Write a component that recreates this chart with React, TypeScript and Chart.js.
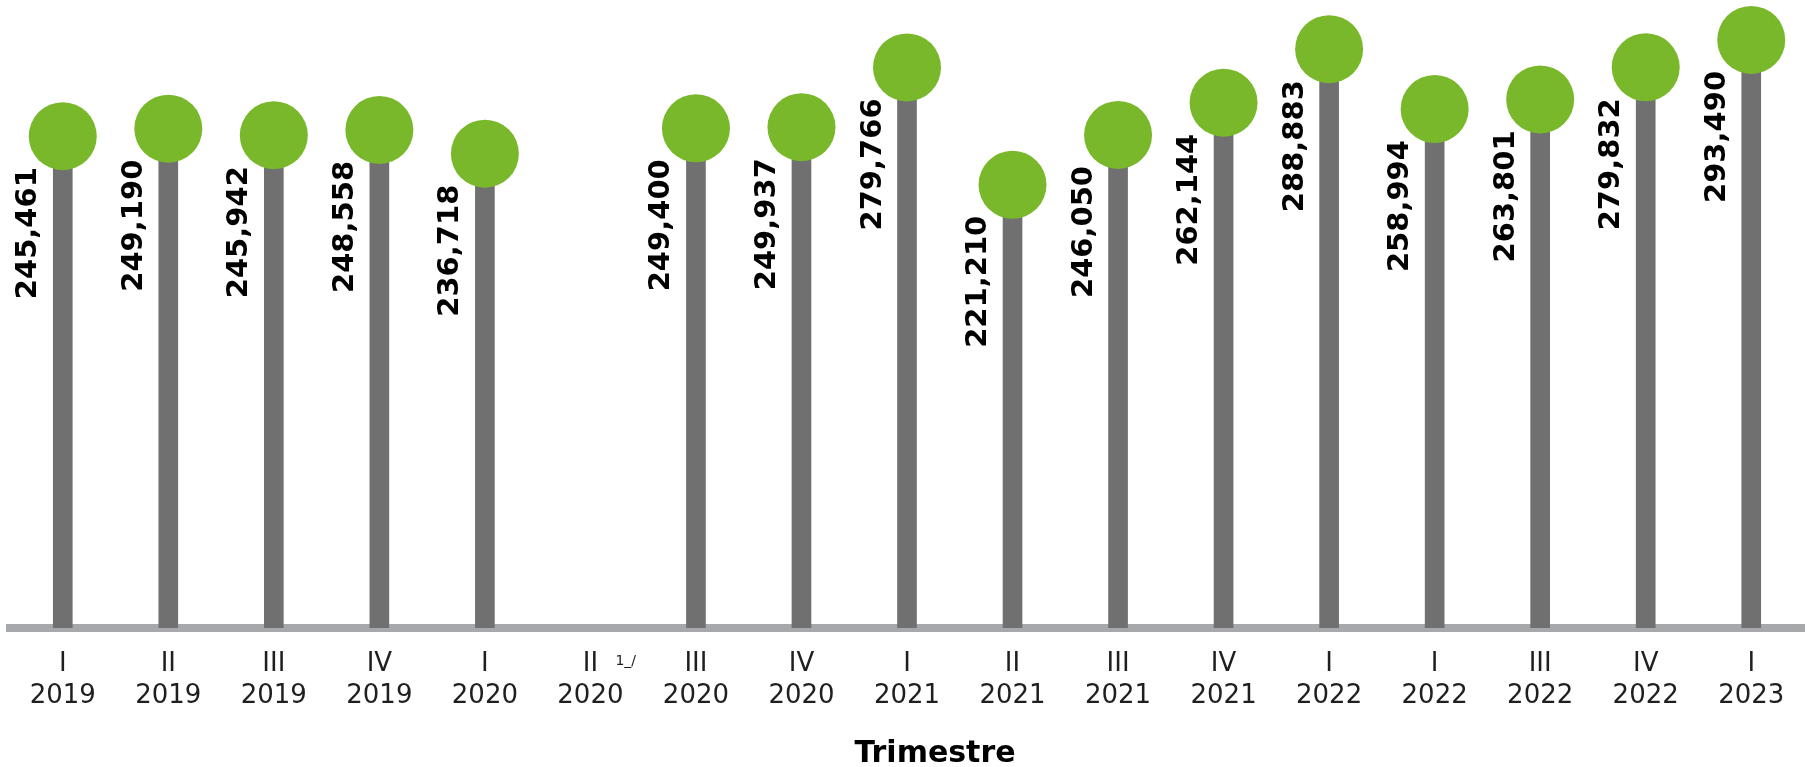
import React, { useEffect, useRef } from 'react';
import { Chart, registerables } from 'chart.js';

Chart.register(...registerables);

const quarters = ['I', 'II', 'III', 'IV', 'I', 'II', 'III', 'IV', 'I', 'II', 'III', 'IV', 'I', 'I', 'III', 'IV', 'I'];
const years = ['2019', '2019', '2019', '2019', '2020', '2020', '2020', '2020', '2021', '2021', '2021', '2021', '2022', '2022', '2022', '2022', '2023'];
const values: (number | null)[] = [
  245461, 249190, 245942, 248558, 236718, null, 249400, 249937, 279766,
  221210, 246050, 262144, 288883, 258994, 263801, 279832, 293490,
];
const footnoteIndex = 5;
const footnoteText = '1_/';
const axisTitle = 'Trimestre';

const GREEN = '#78b82a';
const STEM = '#707070';
const AXIS = '#a7a8ab';
const FONT = '"DejaVu Sans", sans-serif';

export default function App() {
  const ref = useRef<HTMLCanvasElement>(null);

  useEffect(() => {
    if (!ref.current) return;
    const labels = quarters.map((q, i) => [q, years[i]]);

    const overlay = {
      id: 'overlay',
      afterDatasetsDraw(chart: any) {
        const { ctx, chartArea } = chart;
        const xs = chart.scales.x;
        const ys = chart.scales.y;
        ctx.save();
        ctx.fillStyle = '#000';
        ctx.font = `bold 29px ${FONT}`;
        values.forEach((v, i) => {
          if (v == null) return;
          const px = xs.getPixelForValue(i);
          const py = ys.getPixelForValue(v);
          ctx.save();
          ctx.translate(px - 34, py + 31);
          ctx.rotate(-Math.PI / 2);
          ctx.textAlign = 'right';
          ctx.textBaseline = 'middle';
          ctx.fillText(v.toLocaleString('en-US'), 0, 0);
          ctx.restore();
        });
        // footnote marker next to the tick label
        ctx.font = `14px ${FONT}`;
        ctx.fillStyle = '#1f1f1f';
        ctx.textAlign = 'left';
        ctx.textBaseline = 'alphabetic';
        ctx.fillText(footnoteText, xs.getPixelForValue(footnoteIndex) + 25, chartArea.bottom + 37);
        // axis title
        ctx.font = `bold 30px ${FONT}`;
        ctx.fillStyle = '#000';
        ctx.textAlign = 'center';
        ctx.fillText(axisTitle, (chartArea.left + chartArea.right) / 2 + 28, chartArea.bottom + 134);
        ctx.restore();
      },
    };

    const chart = new Chart(ref.current, {
      type: 'bar',
      data: {
        labels,
        datasets: [
          {
            type: 'bar',
            data: values,
            backgroundColor: STEM,
            barThickness: 19,
            borderWidth: 0,
            order: 1,
          } as any,
          {
            type: 'line',
            data: values,
            showLine: false,
            pointRadius: 34,
            pointHoverRadius: 34,
            pointBackgroundColor: GREEN,
            pointBorderWidth: 0,
            pointBorderColor: GREEN,
            clip: false,
            order: 0,
          } as any,
        ],
      },
      plugins: [overlay],
      options: {
        animation: false,
        responsive: true,
        maintainAspectRatio: false,
        devicePixelRatio: 1,
        layout: { autoPadding: false, padding: { left: 10, right: 10, top: 0, bottom: 0 } },
        plugins: { legend: { display: false }, tooltip: { enabled: false } },
        scales: {
          x: {
            offset: true,
            grid: { display: false, drawTicks: false },
            border: { display: true, color: AXIS, width: 8 },
            ticks: {
              autoSkip: false,
              maxRotation: 0,
              minRotation: 0,
              padding: 20,
              color: '#1f1f1f',
              font: { family: FONT, size: 26, lineHeight: 1.24 },
            },
            afterFit: (scale: any) => {
              scale.height = 139;
            },
          },
          y: {
            display: false,
            min: 0,
            max: 313400,
            grid: { display: false },
          },
        },
      },
    } as any);

    return () => chart.destroy();
  }, []);

  return (
    <div style={{ position: 'absolute', left: 0, top: 0, width: 1814, height: 767 }}>
      <canvas ref={ref} />
    </div>
  );
}
